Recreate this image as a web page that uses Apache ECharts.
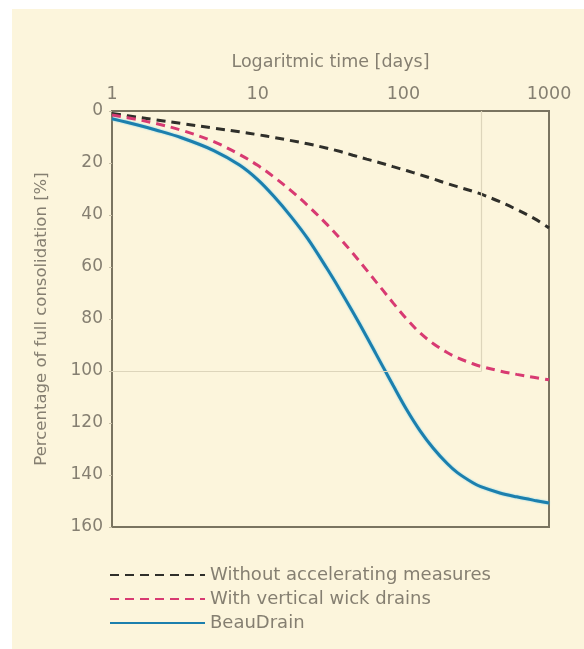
<!DOCTYPE html>
<html>
<head>
<meta charset="utf-8">
<script src="https://cdn.jsdelivr.net/npm/echarts@6/dist/echarts.min.js"></script>
<style>
  html, body { margin: 0; padding: 0; background: #ffffff; }
  #panel { position: absolute; left: 12px; top: 9px; width: 572px; height: 640px; background: #fcf5dc; }
  #chart { position: absolute; left: 0; top: 0; width: 584px; height: 649px; }
</style>
</head>
<body>
<div id="panel"></div>
<div id="chart"></div>
<script>
// Time in days (log scale) and settlement as percentage of full consolidation
const days = [1, 1.5, 2, 3, 5, 7.5, 10, 13, 17, 22, 30, 37, 45, 56, 65, 73, 85, 105, 130, 160, 200, 235, 300, 340, 460, 600, 800, 1000];
const withoutMeasures = [1, 2.4, 3.4, 4.8, 6.6, 8, 9.1, 10.2, 11.4, 12.6, 14.3, 15.6, 17, 18.5, 19.5, 20.3, 21.4, 22.9, 24.5, 26.1, 27.9, 29.1, 30.9, 31.9, 34.9, 37.9, 41.5, 45];
const wickDrains = [1.5, 3.3, 4.8, 7.4, 11.8, 16.7, 20.9, 25.5, 30.7, 36.3, 43.7, 49.2, 54.7, 61.2, 65.7, 69.2, 73.8, 79.9, 85.3, 89.4, 92.9, 94.9, 97.2, 98.2, 100, 101.3, 102.5, 103.4];
const beauDrain = [3, 5.4, 7.3, 10.3, 15.2, 20.8, 26.4, 33, 40.7, 49, 60.7, 69.1, 77.3, 86.8, 93.5, 98.7, 105.5, 114.7, 122.9, 129.6, 135.6, 139.1, 143, 144.5, 146.9, 148.4, 149.8, 150.8];

const seriesNames = ['Without accelerating measures', 'With vertical wick drains', 'BeauDrain'];
const xTicks = [1, 10, 100, 1000];
const yTicks = [0, 20, 40, 60, 80, 100, 120, 140, 160];

// Reference crosshair: time at which the wick drains reach full consolidation
const refDay = 345;
const refPct = 100;

const FONT = 'DejaVu Sans';
const TEXT = '#857f71';
const AXIS = '#7a7460';

const pairs = vals => days.map((d, i) => [d, vals[i]]);

const lineSeries = (name, vals, color, dashed, z) => ({
  name, type: 'line', data: pairs(vals),
  smooth: 0.35, showSymbol: false, symbol: 'none', z,
  lineStyle: Object.assign({ color, width: 3 }, dashed ? { type: [9, 6] } : {}),
  itemStyle: { color }
});

const wick = lineSeries(seriesNames[1], wickDrains, '#d83a72', true, 3);
wick.markLine = {
  silent: true, symbol: 'none', label: { show: false },
  lineStyle: { color: '#ddd5bb', width: 1.2, type: 'solid' },
  data: [
    [{ coord: [xTicks[0], refPct] }, { coord: [refDay, refPct] }],
    [{ coord: [refDay, yTicks[0]] }, { coord: [refDay, refPct] }]
  ]
};

const beau = lineSeries(seriesNames[2], beauDrain, '#1c7fad', false, 4);
beau.lineStyle.shadowColor = 'rgba(90,200,240,0.8)';
beau.lineStyle.shadowBlur = 2;

const chart = echarts.init(document.getElementById('chart'), null, { renderer: 'canvas' });
chart.setOption({
  backgroundColor: 'transparent',
  animation: false,
  grid: {
    left: 112, top: 111, right: 35, bottom: 122,
    show: true, borderColor: AXIS, borderWidth: 2, backgroundColor: 'transparent'
  },
  xAxis: {
    type: 'log', logBase: 10, position: 'top',
    min: xTicks[0], max: xTicks[xTicks.length - 1],
    name: 'Logaritmic time [days]', nameLocation: 'middle', nameGap: 40,
    nameTextStyle: { fontFamily: FONT, fontSize: 17.5, color: TEXT },
    axisLine: { show: true, lineStyle: { color: AXIS, width: 2 } },
    axisTick: { show: false },
    splitLine: { show: false },
    axisLabel: { fontFamily: FONT, fontSize: 17.5, color: TEXT, margin: 8,
      formatter: v => String(Math.round(v)) }
  },
  yAxis: {
    type: 'value', inverse: true,
    min: yTicks[0], max: yTicks[yTicks.length - 1], interval: 20,
    name: 'Percentage of full consolidation [%]', nameLocation: 'middle', nameGap: 62,
    nameRotate: 90,
    nameTextStyle: { fontFamily: FONT, fontSize: 16.5, color: TEXT },
    axisLine: { show: true, lineStyle: { color: AXIS, width: 2 } },
    axisTick: { show: true, inside: false, length: 3, lineStyle: { color: '#c9c1a8' } },
    splitLine: { show: false },
    axisLabel: { fontFamily: FONT, fontSize: 17, color: TEXT, margin: 9 }
  },
  legend: {
    orient: 'vertical', left: 104, top: 560,
    itemWidth: 95, itemHeight: 14, itemGap: 4,
    itemStyle: { opacity: 0 },
    textStyle: { fontFamily: FONT, fontSize: 18, color: TEXT, lineHeight: 20 },
    data: seriesNames
  },
  series: [
    lineSeries(seriesNames[0], withoutMeasures, '#2f2f2a', true, 3),
    wick,
    beau
  ]
});
</script>
</body>
</html>
